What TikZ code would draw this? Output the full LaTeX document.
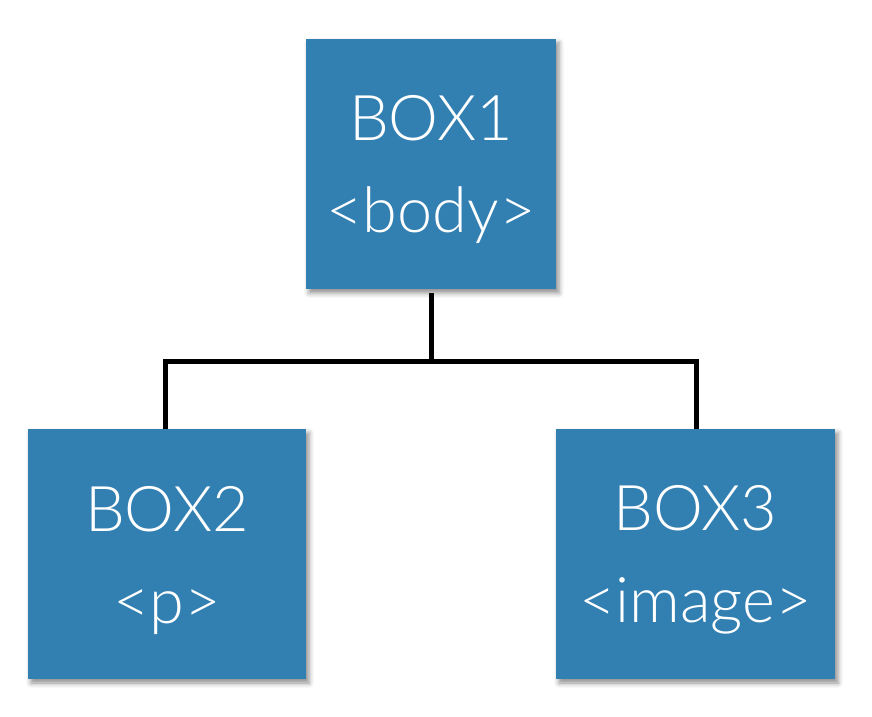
\documentclass[tikz,border=0pt]{standalone}
\usepackage{fontspec}
\setmainfont{Lato Light}
\usetikzlibrary{shadows.blur}
\definecolor{boxblue}{RGB}{50,128,178}
\begin{document}
\begin{tikzpicture}[x=1pt,y=1pt,
  bluebox/.style={fill=boxblue, draw=none, inner sep=0pt,
    blur shadow={shadow xshift=3pt, shadow yshift=-4pt, shadow blur radius=5pt, shadow opacity=45}},
  boxtext/.style={text=white, align=center, inner sep=0pt,
    font=\fontsize{63}{92}\selectfont},
  link/.style={line width=5pt, black}]
\useasboundingbox (0,0) rectangle (872,716);
\node[bluebox, minimum width=250pt, minimum height=250pt] (b1) at (431,552) {};
\node[bluebox, minimum width=278pt, minimum height=250pt] (b2) at (167,162) {};
\node[bluebox, minimum width=279pt, minimum height=250pt] (b3) at (695.5,162) {};
\node[boxtext] (t1) at ([yshift=-6pt]b1.center) {BOX1\\\textless body\textgreater};
\node[boxtext] (t2) at ([yshift=-6pt]b2.center) {BOX2\\\textless p\textgreater};
\node[boxtext] (t3) at ([yshift=-6pt]b3.center) {BOX3\\\textless image\textgreater};
\coordinate (j) at (431.5,355);
\draw[link] ([xshift=0.5pt,yshift=-4pt]b1.south) -- (j);
\draw[link] ([xshift=-2pt]b2.north) |- (j) -| ([xshift=0.5pt]b3.north);
\end{tikzpicture}
\end{document}
